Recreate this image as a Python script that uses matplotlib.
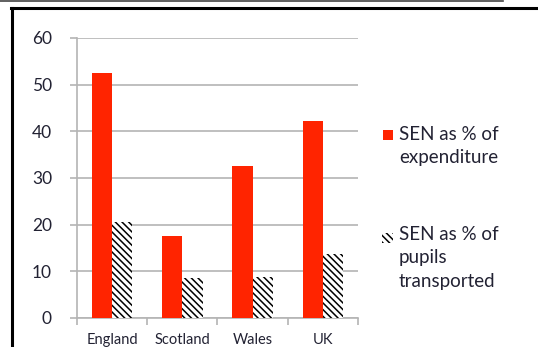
import matplotlib
matplotlib.use("Agg")
import matplotlib.pyplot as plt
from matplotlib.lines import Line2D
from matplotlib.patches import Rectangle
import numpy as np

# 数据
countries = ["England", "Scotland", "Wales", "UK"]
expenditure = [52.5, 17.5, 32.5, 42.3]
transported = [20.5, 8.5, 8.7, 13.8]
series_labels = ["SEN as % of\nexpenditure", "SEN as % of\npupils\ntransported"]

W, H = 538, 347
plt.rcParams["font.family"] = ["Lato", "DejaVu Sans"]
plt.rcParams["hatch.linewidth"] = 1.1
TXT = "#222233"
RED = "#ff2400"
GRID = "#b4b4b4"
HATCH = "\\\\\\\\\\"

fig = plt.figure(figsize=(W / 100, H / 100), dpi=100)
ax = fig.add_axes([77 / W, (H - 318) / H, (358 - 77) / W, 280 / H])

x = np.arange(len(countries))
bw = 0.29
ax.bar(x - 0.145, expenditure, bw, color=RED, zorder=3)
ax.bar(x + 0.145, transported, bw, color="white", edgecolor="black",
       hatch=HATCH, linewidth=0, zorder=3)

ax.set_xlim(-0.5, 3.5)
ax.set_ylim(0, 60)
ax.set_yticks(range(0, 61, 10))
ax.yaxis.grid(True, color=GRID, linewidth=1.2, zorder=0)
ax.set_axisbelow(True)

ax.set_xticks(x)
ax.set_xticklabels(countries)
ax.set_xticks(np.arange(-0.5, 4, 1), minor=True)
ax.tick_params(axis="x", which="major", length=0, pad=11, labelsize=10.5, labelcolor=TXT)
ax.tick_params(axis="x", which="minor", length=5, color=GRID, width=1.2)
ax.tick_params(axis="y", length=5, color=GRID, width=1.2, pad=13, labelsize=12.5, labelcolor=TXT)

for s in ["top", "right"]:
    ax.spines[s].set_visible(False)
for s in ["left", "bottom"]:
    ax.spines[s].set_color(GRID)
    ax.spines[s].set_linewidth(1.2)

# 图例（手动放置）
def fx(px):
    return px / W

def fy(py):
    return 1 - py / H

fig.patches.append(Rectangle((fx(383), fy(140)), 10 / W, 10 / H, transform=fig.transFigure,
                             facecolor=RED, edgecolor="none"))
fig.patches.append(Rectangle((fx(382), fy(243)), 11 / W, 10 / H, transform=fig.transFigure,
                             facecolor="white", edgecolor="black", hatch=HATCH, linewidth=0))
fig.text(fx(399), fy(126), series_labels[0], ha="left", va="top", fontsize=13.5,
         color=TXT, linespacing=1.45)
fig.text(fx(399), fy(226), series_labels[1], ha="left", va="top", fontsize=13.5,
         color=TXT, linespacing=1.45)

# 外框线
fig.add_artist(Line2D([0, fx(503)], [fy(0.5), fy(0.5)], color="#444444", linewidth=1.2,
                      transform=fig.transFigure))
fig.add_artist(Line2D([fx(11), 1], [fy(8), fy(8)], color="black", linewidth=2.2,
                      transform=fig.transFigure))
fig.add_artist(Line2D([fx(12), fx(12)], [fy(8), 0], color="black", linewidth=2.2,
                      transform=fig.transFigure))

fig.savefig("out.png", dpi=100)
